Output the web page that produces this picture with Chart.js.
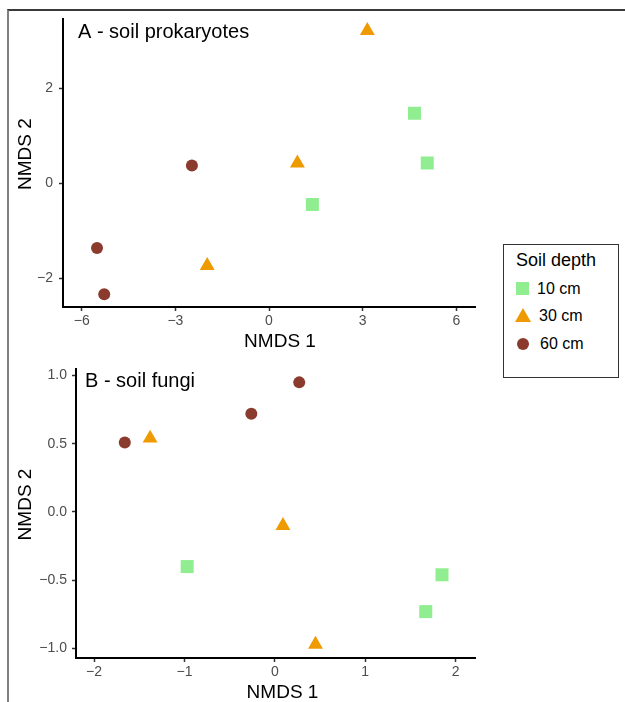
<!DOCTYPE html>
<html>
<head>
<meta charset="utf-8">
<script src="https://cdn.jsdelivr.net/npm/chart.js@4/dist/chart.umd.min.js"></script>
<style>
  body { margin: 0; background: #fff; width: 625px; height: 702px; position: relative; overflow: hidden; font-family: "Liberation Sans", Arial, sans-serif; }
  #frame { position: absolute; left: 7px; top: 9px; width: 630px; height: 700px; border-top: 2px solid #3a3a3a; border-left: 2px solid #808080; }
  canvas { position: absolute; }
  #chartA { left: 8px; top: 10px; }
  #chartB { left: 8px; top: 355px; }
  #legend { position: absolute; left: 503px; top: 244px; width: 114px; height: 132px; border: 1px solid #333; background: #fff; z-index: 5; }
  #legend .title { position: absolute; left: 12px; top: 5px; font-size: 18px; color: #000; }
  #legend .item { position: absolute; left: 12px; font-size: 16px; color: #000; height: 16px; line-height: 16px; }
  #legend .mark { position: absolute; }
  #legend .lab { position: absolute; white-space: nowrap; }
</style>
</head>
<body>
<div id="frame"></div>
<canvas id="chartA" width="617" height="345"></canvas>
<canvas id="chartB" width="617" height="347"></canvas>
<div id="legend"></div>

<script>
// groups
const depthLabels = ['10 cm', '30 cm', '60 cm'];
const depthColors = ['#90EE90', '#EE9A00', '#8B3A2E'];
const depthShapes = ['rect', 'triangle', 'circle'];
const depthRadius = [9.2, 8.6, 6];

// A - soil prokaryotes
const protX10 = [4.66, 5.07, 1.39];
const protY10 = [1.48, 0.43, -0.44];
const protX30 = [0.91, -1.98, 3.15];
const protY30 = [0.43, -1.73, 3.22];
const protX60 = [-2.47, -5.51, -5.28];
const protY60 = [0.38, -1.36, -2.33];
const protXTicks = [-6, -3, 0, 3, 6];
const protYTicks = [-2, 0, 2];

// B - soil fungi
const fungX10 = [-0.97, 1.85, 1.67];
const fungY10 = [-0.40, -0.46, -0.73];
const fungX30 = [-1.38, 0.09, 0.45];
const fungY30 = [0.54, -0.10, -0.97];
const fungX60 = [-1.66, -0.26, 0.27];
const fungY60 = [0.51, 0.72, 0.95];
const fungXTicks = [-2, -1, 0, 1, 2];
const fungYTicks = [-1.0, -0.5, 0.0, 0.5, 1.0];

const FONT = '"Liberation Sans", Arial, sans-serif';

function pts(xs, ys) {
    return xs.map((x, i) => ({x: x, y: ys[i]}));
}

function minus(s) {
    return String(s).replace('-', '\u2212');
}

// panel tag + axis titles (ggplot puts them slightly off the panel centre)
const panelText = {
    id: 'panelText',
    afterDraw(chart, args, opts) {
        const ctx = chart.ctx;
        const a = chart.chartArea;
        ctx.save();
        ctx.fillStyle = '#000';
        ctx.textBaseline = 'alphabetic';
        ctx.font = '20px ' + FONT;
        ctx.textAlign = 'left';
        ctx.fillText(opts.text, a.left + opts.dx, a.top + opts.dy);

        ctx.font = '19px ' + FONT;
        ctx.textAlign = 'center';
        ctx.fillText(opts.xTitle, (a.left + a.right) / 2 + opts.xtDx, opts.xtY);

        ctx.translate(opts.ytX, (a.top + a.bottom) / 2 + opts.ytDy);
        ctx.rotate(-Math.PI / 2);
        ctx.fillText(opts.yTitle, 0, 0);
        ctx.restore();
    }
};

function axis(cfg) {
    return {
        type: 'linear',
        position: cfg.pos,
        min: cfg.min,
        max: cfg.max,
        border: {display: true, color: '#000', width: 2},
        grid: {drawOnChartArea: false, drawTicks: true, tickLength: 4, tickColor: '#333', tickWidth: 1.5},
        ticks: {
            color: '#4D4D4D',
            font: {family: FONT, size: 14},
            padding: cfg.pad,
            maxRotation: 0,
            callback: cfg.fmt
        },
        afterBuildTicks: s => { s.ticks = cfg.ticks.map(v => ({value: v})); },
        afterFit: s => {
            if (cfg.pos === 'left') s.width = cfg.size; else s.height = cfg.size;
            s.paddingLeft = 0; s.paddingRight = 0; s.paddingTop = 0; s.paddingBottom = 0;
        }
    };
}

function makeChart(id, series, opts) {
    const datasets = series.map((d, i) => ({
        label: depthLabels[i],
        data: d,
        pointStyle: depthShapes[i],
        pointRadius: depthRadius[i],
        pointHoverRadius: depthRadius[i],
        backgroundColor: depthColors[i],
        borderColor: depthColors[i],
        pointBorderWidth: 0,
        showLine: false
    }));
    return new Chart(document.getElementById(id), {
        type: 'scatter',
        data: {datasets: datasets},
        options: {
            responsive: false,
            animation: false,
            devicePixelRatio: 1,
            layout: {padding: opts.padding},
            plugins: {
                legend: {display: false},
                tooltip: {enabled: false},
                panelText: opts.text
            },
            scales: {x: opts.x, y: opts.y}
        },
        plugins: [panelText]
    });
}

makeChart('chartA', [pts(protX10, protY10), pts(protX30, protY30), pts(protX60, protY60)], {
    padding: {left: 0, top: 8, right: 150, bottom: 0},
    text: {text: 'A - soil prokaryotes', dx: 15, dy: 19,
        xTitle: 'NMDS 1', xtDx: 11, xtY: 337,
        yTitle: 'NMDS 2', ytX: 23, ytDy: -9},
    x: axis({pos: 'bottom', min: -6.6, max: 6.6, ticks: protXTicks, size: 48, pad: 2, fmt: v => minus(v)}),
    y: axis({pos: 'left', min: -2.6, max: 3.46, ticks: protYTicks, size: 55, pad: 6, fmt: v => minus(v)})
});

makeChart('chartB', [pts(fungX10, fungY10), pts(fungX30, fungY30), pts(fungX60, fungY60)], {
    padding: {left: 0, top: 14, right: 150, bottom: 0},
    text: {text: 'B - soil fungi', dx: 9, dy: 18,
        xTitle: 'NMDS 1', xtDx: 7, xtY: 343,
        yTitle: 'NMDS 2', ytX: 23, ytDy: -9},
    x: axis({pos: 'bottom', min: -2.2, max: 2.215, ticks: fungXTicks, size: 44, pad: 2, fmt: v => minus(v)}),
    y: axis({pos: 'left', min: -1.07, max: 1.048, ticks: fungYTicks, size: 68, pad: 5,
        fmt: v => minus(Number(v).toFixed(1))})
});

// legend
const legend = document.getElementById('legend');
legend.innerHTML = '<div class="title">Soil depth</div>';
const itemTops = [36, 63, 91];
depthLabels.forEach((lab, i) => {
    let mark;
    if (depthShapes[i] === 'rect') {
        mark = '<div class="mark" style="left:0;top:1px;width:13px;height:13px;background:' + depthColors[i] + '"></div>';
    } else if (depthShapes[i] === 'triangle') {
        mark = '<div class="mark" style="left:-1px;top:0;width:0;height:0;border-left:8px solid transparent;border-right:8px solid transparent;border-bottom:14px solid ' + depthColors[i] + '"></div>';
    } else {
        mark = '<div class="mark" style="left:1px;top:2px;width:12px;height:12px;border-radius:50%;background:' + depthColors[i] + '"></div>';
    }
    const labLeft = [21, 23, 24][i];
    legend.innerHTML += '<div class="item" style="top:' + itemTops[i] + 'px">' + mark +
        '<span class="lab" style="left:' + labLeft + 'px">' + lab + '</span></div>';
});
</script>
</body>
</html>
